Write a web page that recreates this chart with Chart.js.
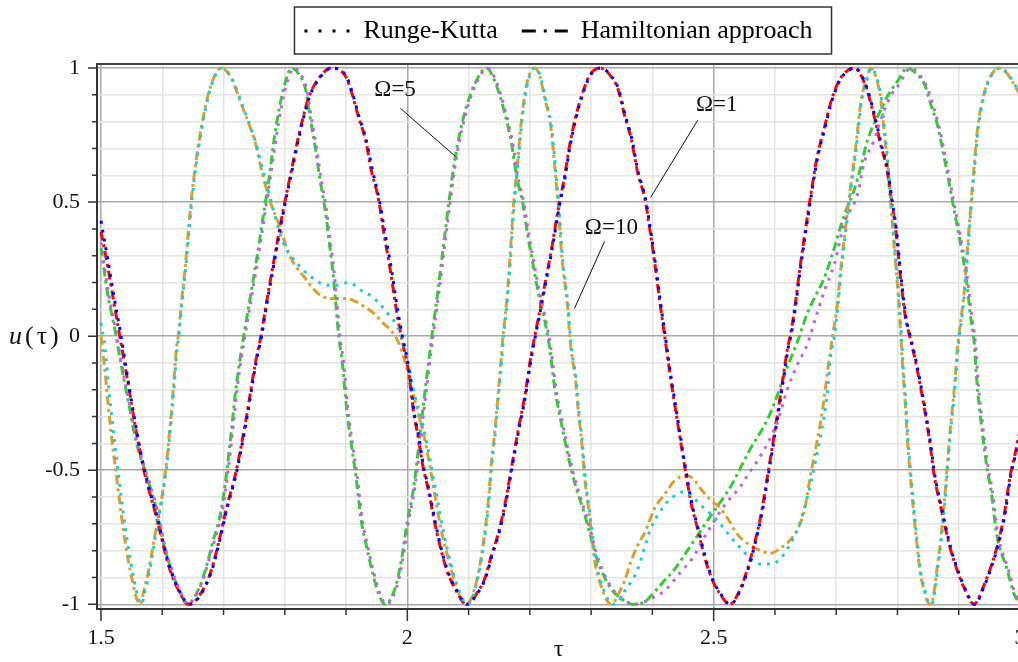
<!DOCTYPE html>
<html><head><meta charset="utf-8">
<script src="https://cdn.jsdelivr.net/npm/chart.js@4/dist/chart.umd.min.js"></script>
<style>
html,body{margin:0;padding:0;background:#fff;overflow:hidden;width:1018px;height:662px;}
#wrap{position:relative;width:1020px;height:662px;}
canvas{display:block;}
#ylab{position:absolute;left:9px;top:323px;font-family:"Liberation Serif",serif;font-size:26px;line-height:26px;color:#111;letter-spacing:3px;white-space:nowrap;}
</style></head><body>
<div id="wrap"><canvas id="c" width="1020" height="662"></canvas><div id="ylab"><i>u</i>(τ)</div></div>
<script>
// ---- tick labels ----
const xTickLabels = [1.5, 2, 2.5, 3];
const yTickLabels = [-1, -0.5, 0, 0.5, 1];
const legendLabels = ['Runge-Kutta', 'Hamiltonian approach'];

// ---- series (tau, u) ----
const ham1 = [[1.500,0.39],[1.511,0.26],[1.523,0.10],[1.533,-0.03],[1.546,-0.20],[1.557,-0.35],[1.570,-0.50],[1.590,-0.67],[1.611,-0.86],[1.627,-0.95],[1.643,-1.00],[1.660,-0.97],[1.679,-0.88],[1.692,-0.77],[1.705,-0.64],[1.720,-0.51],[1.736,-0.32],[1.752,-0.10],[1.761,0.00],[1.769,0.11],[1.779,0.24],[1.790,0.38],[1.800,0.50],[1.811,0.62],[1.822,0.74],[1.839,0.89],[1.855,0.96],[1.876,1.00],[1.899,0.97],[1.909,0.91],[1.920,0.82],[1.932,0.73],[1.941,0.62],[1.953,0.51],[1.962,0.38],[1.972,0.25],[1.982,0.10],[1.990,0.00],[2.002,-0.13],[2.010,-0.28],[2.018,-0.38],[2.025,-0.48],[2.034,-0.57],[2.047,-0.72],[2.064,-0.87],[2.080,-0.95],[2.096,-1.00],[2.116,-0.95],[2.127,-0.90],[2.137,-0.82],[2.148,-0.74],[2.160,-0.62],[2.170,-0.49],[2.181,-0.35],[2.192,-0.22],[2.200,-0.10],[2.208,0.00],[2.215,0.08],[2.225,0.20],[2.235,0.32],[2.246,0.47],[2.257,0.60],[2.264,0.70],[2.274,0.81],[2.285,0.90],[2.297,0.97],[2.314,1.00],[2.332,0.97],[2.344,0.92],[2.355,0.82],[2.365,0.74],[2.376,0.61],[2.388,0.51],[2.397,0.38],[2.404,0.27],[2.412,0.13],[2.420,0.00],[2.430,-0.16],[2.441,-0.32],[2.453,-0.49],[2.463,-0.62],[2.474,-0.72],[2.486,-0.83],[2.498,-0.91],[2.510,-0.96],[2.526,-1.00],[2.540,-0.96],[2.555,-0.87],[2.567,-0.77],[2.577,-0.67],[2.588,-0.52],[2.598,-0.38],[2.609,-0.22],[2.621,-0.04],[2.625,0.00],[2.632,0.10],[2.640,0.24],[2.648,0.37],[2.658,0.52],[2.669,0.67],[2.681,0.78],[2.691,0.87],[2.702,0.94],[2.713,0.98],[2.730,1.00],[2.741,0.97],[2.750,0.92],[2.762,0.82],[2.772,0.72],[2.783,0.62],[2.790,0.51],[2.797,0.40],[2.805,0.22],[2.813,0.07],[2.820,0.00],[2.830,-0.10],[2.844,-0.27],[2.853,-0.40],[2.860,-0.52],[2.870,-0.63],[2.886,-0.79],[2.897,-0.87],[2.909,-0.94],[2.925,-1.00],[2.941,-0.93],[2.951,-0.87],[2.962,-0.79],[2.974,-0.67],[2.984,-0.52],[2.992,-0.44],[3.000,-0.35]];

const rk1 = [[1.500,0.43],[1.510,0.30],[1.521,0.15],[1.532,0.01],[1.546,-0.19],[1.558,-0.35],[1.571,-0.50],[1.591,-0.67],[1.612,-0.86],[1.628,-0.95],[1.644,-1.00],[1.661,-0.97],[1.680,-0.88],[1.693,-0.77],[1.706,-0.64],[1.721,-0.51],[1.737,-0.32],[1.753,-0.10],[1.762,0.00],[1.770,0.11],[1.780,0.24],[1.791,0.38],[1.801,0.50],[1.812,0.62],[1.823,0.74],[1.840,0.89],[1.856,0.96],[1.877,1.00],[1.900,0.97],[1.910,0.91],[1.921,0.82],[1.933,0.73],[1.943,0.62],[1.954,0.51],[1.964,0.38],[1.974,0.25],[1.984,0.10],[1.992,0.00],[2.003,-0.13],[2.011,-0.28],[2.019,-0.38],[2.026,-0.48],[2.035,-0.57],[2.048,-0.72],[2.065,-0.87],[2.081,-0.95],[2.097,-1.00],[2.117,-0.95],[2.128,-0.90],[2.138,-0.82],[2.149,-0.74],[2.161,-0.62],[2.171,-0.49],[2.182,-0.35],[2.193,-0.22],[2.201,-0.10],[2.209,0.00],[2.216,0.08],[2.226,0.20],[2.236,0.32],[2.247,0.47],[2.258,0.60],[2.265,0.70],[2.275,0.81],[2.286,0.90],[2.298,0.97],[2.315,1.00],[2.333,0.97],[2.345,0.92],[2.356,0.82],[2.366,0.74],[2.377,0.61],[2.389,0.51],[2.398,0.38],[2.405,0.27],[2.413,0.13],[2.421,0.00],[2.431,-0.16],[2.442,-0.32],[2.454,-0.49],[2.464,-0.62],[2.475,-0.72],[2.487,-0.83],[2.499,-0.91],[2.511,-0.96],[2.527,-1.00],[2.541,-0.96],[2.556,-0.87],[2.568,-0.77],[2.578,-0.67],[2.589,-0.52],[2.599,-0.38],[2.610,-0.22],[2.622,-0.04],[2.626,0.00],[2.633,0.10],[2.641,0.24],[2.649,0.37],[2.659,0.52],[2.670,0.67],[2.682,0.78],[2.692,0.87],[2.703,0.94],[2.714,0.98],[2.731,1.00],[2.742,0.97],[2.751,0.92],[2.763,0.82],[2.773,0.72],[2.784,0.62],[2.791,0.51],[2.798,0.40],[2.806,0.22],[2.814,0.07],[2.821,0.00],[2.831,-0.10],[2.845,-0.27],[2.854,-0.40],[2.861,-0.52],[2.871,-0.63],[2.887,-0.79],[2.898,-0.87],[2.910,-0.94],[2.926,-1.00],[2.942,-0.93],[2.952,-0.87],[2.963,-0.79],[2.975,-0.67],[2.985,-0.52],[2.993,-0.44],[3.000,-0.37]];

const ham5 = [[1.500,0.33],[1.510,0.17],[1.523,0.02],[1.534,-0.12],[1.546,-0.26],[1.557,-0.39],[1.573,-0.51],[1.590,-0.64],[1.603,-0.78],[1.616,-0.88],[1.630,-0.96],[1.640,-1.00],[1.660,-0.94],[1.672,-0.86],[1.681,-0.78],[1.697,-0.64],[1.705,-0.51],[1.713,-0.35],[1.720,-0.20],[1.728,-0.07],[1.733,0.00],[1.744,0.15],[1.755,0.30],[1.765,0.45],[1.775,0.60],[1.783,0.74],[1.791,0.85],[1.800,0.94],[1.811,1.00],[1.822,0.98],[1.834,0.92],[1.841,0.82],[1.850,0.70],[1.857,0.59],[1.866,0.47],[1.872,0.36],[1.878,0.25],[1.883,0.13],[1.888,0.00],[1.894,-0.10],[1.900,-0.25],[1.909,-0.41],[1.916,-0.52],[1.925,-0.69],[1.934,-0.79],[1.943,-0.88],[1.953,-0.96],[1.964,-1.00],[1.980,-0.94],[1.990,-0.84],[2.000,-0.69],[2.010,-0.57],[2.025,-0.28],[2.040,0.00],[2.050,0.17],[2.057,0.30],[2.068,0.50],[2.077,0.65],[2.087,0.77],[2.097,0.86],[2.110,0.94],[2.129,1.00],[2.143,0.95],[2.158,0.84],[2.170,0.72],[2.178,0.60],[2.188,0.50],[2.197,0.37],[2.205,0.27],[2.214,0.16],[2.225,0.05],[2.232,-0.04],[2.241,-0.20],[2.251,-0.32],[2.258,-0.40],[2.270,-0.52],[2.290,-0.67],[2.311,-0.84],[2.332,-0.94],[2.350,-0.98],[2.368,-1.00],[2.388,-0.99],[2.405,-0.95],[2.420,-0.91],[2.436,-0.87],[2.463,-0.78],[2.495,-0.67],[2.528,-0.56],[2.544,-0.49],[2.560,-0.42],[2.588,-0.31],[2.604,-0.22],[2.616,-0.14],[2.630,-0.06],[2.640,0.00],[2.652,0.08],[2.664,0.14],[2.681,0.22],[2.697,0.33],[2.713,0.45],[2.730,0.55],[2.740,0.63],[2.751,0.73],[2.772,0.84],[2.785,0.90],[2.800,0.95],[2.816,1.00],[2.830,0.98],[2.844,0.94],[2.855,0.86],[2.865,0.79],[2.876,0.67],[2.886,0.55],[2.895,0.44],[2.905,0.32],[2.913,0.20],[2.919,0.08],[2.925,-0.02],[2.930,-0.18],[2.937,-0.33],[2.946,-0.49],[2.953,-0.58],[2.962,-0.74],[2.979,-0.87],[2.990,-0.96],[3.000,-1.00]];

const rk5 = [[1.500,0.35],[1.511,0.18],[1.524,0.02],[1.535,-0.12],[1.547,-0.26],[1.558,-0.39],[1.574,-0.51],[1.591,-0.64],[1.604,-0.78],[1.617,-0.88],[1.631,-0.96],[1.641,-1.00],[1.661,-0.94],[1.673,-0.86],[1.683,-0.78],[1.699,-0.64],[1.707,-0.51],[1.715,-0.35],[1.722,-0.20],[1.730,-0.07],[1.735,0.00],[1.746,0.15],[1.757,0.30],[1.767,0.45],[1.777,0.60],[1.786,0.74],[1.794,0.85],[1.803,0.94],[1.815,1.00],[1.825,0.98],[1.836,0.92],[1.843,0.82],[1.852,0.70],[1.859,0.59],[1.868,0.47],[1.874,0.36],[1.880,0.25],[1.885,0.13],[1.890,0.00],[1.896,-0.10],[1.902,-0.25],[1.911,-0.41],[1.918,-0.52],[1.927,-0.69],[1.936,-0.79],[1.945,-0.88],[1.955,-0.96],[1.966,-1.00],[1.982,-0.94],[1.992,-0.84],[2.002,-0.69],[2.012,-0.57],[2.027,-0.28],[2.042,0.00],[2.052,0.17],[2.059,0.30],[2.070,0.50],[2.079,0.65],[2.089,0.77],[2.099,0.86],[2.112,0.94],[2.131,1.00],[2.145,0.95],[2.160,0.84],[2.172,0.72],[2.180,0.60],[2.190,0.50],[2.199,0.37],[2.207,0.27],[2.216,0.16],[2.227,0.05],[2.234,-0.04],[2.243,-0.20],[2.253,-0.32],[2.260,-0.40],[2.272,-0.52],[2.292,-0.67],[2.313,-0.84],[2.334,-0.94],[2.352,-0.98],[2.370,-1.00],[2.388,-0.99],[2.405,-0.97],[2.420,-0.95],[2.446,-0.88],[2.465,-0.83],[2.490,-0.73],[2.518,-0.63],[2.544,-0.56],[2.555,-0.52],[2.570,-0.47],[2.588,-0.40],[2.604,-0.32],[2.620,-0.20],[2.636,-0.11],[2.653,-0.03],[2.668,0.08],[2.681,0.17],[2.697,0.27],[2.713,0.42],[2.735,0.53],[2.746,0.65],[2.760,0.72],[2.778,0.84],[2.790,0.90],[2.803,0.94],[2.821,1.00],[2.834,0.98],[2.848,0.93],[2.858,0.86],[2.868,0.78],[2.878,0.67],[2.888,0.55],[2.897,0.44],[2.907,0.32],[2.915,0.20],[2.921,0.08],[2.927,-0.02],[2.932,-0.18],[2.939,-0.33],[2.948,-0.49],[2.955,-0.58],[2.964,-0.74],[2.981,-0.87],[2.992,-0.96],[3.000,-0.99]];

const ham10 = [[1.500,0.00],[1.506,-0.12],[1.512,-0.26],[1.518,-0.39],[1.524,-0.50],[1.530,-0.61],[1.537,-0.73],[1.544,-0.83],[1.551,-0.91],[1.557,-0.97],[1.564,-1.00],[1.570,-0.95],[1.578,-0.87],[1.589,-0.73],[1.600,-0.59],[1.607,-0.47],[1.613,-0.33],[1.618,-0.20],[1.623,-0.05],[1.626,0.00],[1.632,0.14],[1.638,0.27],[1.643,0.40],[1.648,0.52],[1.655,0.65],[1.661,0.74],[1.669,0.84],[1.680,0.94],[1.697,1.00],[1.713,0.96],[1.730,0.86],[1.740,0.80],[1.752,0.72],[1.762,0.62],[1.770,0.55],[1.778,0.49],[1.790,0.42],[1.800,0.35],[1.808,0.30],[1.818,0.26],[1.832,0.22],[1.845,0.18],[1.860,0.15],[1.875,0.14],[1.900,0.14],[1.915,0.13],[1.930,0.11],[1.948,0.08],[1.960,0.05],[1.974,0.02],[1.985,-0.02],[1.997,-0.10],[2.008,-0.20],[2.018,-0.29],[2.028,-0.38],[2.038,-0.50],[2.047,-0.62],[2.056,-0.73],[2.067,-0.83],[2.078,-0.92],[2.088,-0.98],[2.097,-1.00],[2.110,-0.94],[2.121,-0.82],[2.127,-0.72],[2.132,-0.62],[2.137,-0.48],[2.143,-0.35],[2.148,-0.22],[2.153,-0.09],[2.156,0.00],[2.160,0.08],[2.166,0.24],[2.173,0.48],[2.180,0.65],[2.186,0.80],[2.194,0.93],[2.202,0.99],[2.208,1.00],[2.216,0.97],[2.225,0.88],[2.233,0.80],[2.238,0.70],[2.243,0.57],[2.246,0.50],[2.249,0.40],[2.252,0.30],[2.257,0.20],[2.262,0.10],[2.265,0.00],[2.269,-0.08],[2.274,-0.15],[2.279,-0.28],[2.284,-0.38],[2.290,-0.54],[2.295,-0.63],[2.300,-0.72],[2.306,-0.84],[2.316,-0.93],[2.327,-0.99],[2.333,-1.00],[2.345,-0.96],[2.355,-0.91],[2.365,-0.84],[2.376,-0.78],[2.388,-0.73],[2.404,-0.64],[2.420,-0.59],[2.436,-0.54],[2.453,-0.52],[2.466,-0.53],[2.479,-0.57],[2.495,-0.61],[2.510,-0.64],[2.523,-0.68],[2.539,-0.74],[2.560,-0.78],[2.577,-0.80],[2.593,-0.81],[2.609,-0.79],[2.621,-0.77],[2.637,-0.72],[2.648,-0.65],[2.658,-0.52],[2.669,-0.39],[2.678,-0.27],[2.686,-0.13],[2.694,0.00],[2.702,0.12],[2.707,0.24],[2.713,0.36],[2.723,0.55],[2.730,0.67],[2.735,0.77],[2.740,0.87],[2.751,0.97],[2.756,1.00],[2.767,0.95],[2.773,0.88],[2.778,0.77],[2.783,0.66],[2.788,0.52],[2.792,0.41],[2.795,0.32],[2.800,0.19],[2.805,0.02],[2.808,-0.10],[2.813,-0.26],[2.816,-0.38],[2.821,-0.52],[2.827,-0.67],[2.832,-0.78],[2.837,-0.88],[2.844,-0.95],[2.849,-0.99],[2.855,-1.00],[2.860,-0.95],[2.865,-0.86],[2.870,-0.77],[2.876,-0.63],[2.881,-0.49],[2.886,-0.35],[2.893,-0.19],[2.898,-0.04],[2.903,0.05],[2.909,0.17],[2.914,0.32],[2.919,0.47],[2.925,0.63],[2.930,0.76],[2.936,0.85],[2.946,0.94],[2.958,0.99],[2.966,1.00],[2.979,0.98],[2.990,0.94],[3.000,0.90]];

const rk10 = [[1.500,0.05],[1.507,-0.05],[1.513,-0.20],[1.519,-0.33],[1.526,-0.47],[1.533,-0.60],[1.540,-0.72],[1.547,-0.82],[1.554,-0.91],[1.560,-0.97],[1.566,-1.00],[1.572,-0.95],[1.580,-0.87],[1.590,-0.73],[1.601,-0.59],[1.608,-0.47],[1.614,-0.33],[1.619,-0.20],[1.624,-0.05],[1.627,0.00],[1.633,0.14],[1.639,0.27],[1.644,0.40],[1.649,0.52],[1.656,0.65],[1.662,0.74],[1.670,0.84],[1.681,0.94],[1.698,1.00],[1.714,0.96],[1.731,0.86],[1.741,0.80],[1.753,0.72],[1.763,0.63],[1.770,0.57],[1.778,0.50],[1.790,0.40],[1.801,0.33],[1.817,0.28],[1.833,0.24],[1.850,0.21],[1.868,0.19],[1.885,0.19],[1.904,0.20],[1.925,0.17],[1.941,0.15],[1.955,0.12],[1.966,0.09],[1.980,0.05],[1.990,0.00],[2.000,-0.09],[2.012,-0.22],[2.022,-0.30],[2.032,-0.40],[2.041,-0.51],[2.050,-0.62],[2.059,-0.73],[2.069,-0.83],[2.080,-0.92],[2.090,-0.98],[2.099,-1.00],[2.111,-0.94],[2.122,-0.82],[2.128,-0.72],[2.133,-0.62],[2.138,-0.48],[2.144,-0.35],[2.149,-0.22],[2.154,-0.09],[2.157,0.00],[2.161,0.08],[2.167,0.24],[2.174,0.48],[2.181,0.65],[2.187,0.80],[2.195,0.93],[2.203,0.99],[2.209,1.00],[2.217,0.97],[2.226,0.88],[2.234,0.80],[2.239,0.70],[2.244,0.57],[2.247,0.50],[2.250,0.40],[2.253,0.30],[2.258,0.20],[2.263,0.10],[2.266,0.00],[2.270,-0.08],[2.275,-0.15],[2.280,-0.28],[2.285,-0.38],[2.291,-0.54],[2.296,-0.63],[2.301,-0.72],[2.308,-0.84],[2.318,-0.93],[2.330,-0.99],[2.339,-1.00],[2.355,-0.95],[2.376,-0.87],[2.397,-0.72],[2.420,-0.63],[2.440,-0.59],[2.453,-0.58],[2.466,-0.60],[2.479,-0.63],[2.507,-0.69],[2.528,-0.75],[2.544,-0.79],[2.560,-0.83],[2.577,-0.85],[2.593,-0.85],[2.609,-0.83],[2.626,-0.77],[2.637,-0.72],[2.653,-0.60],[2.664,-0.49],[2.674,-0.38],[2.686,-0.20],[2.690,-0.09],[2.697,0.00],[2.703,0.12],[2.708,0.24],[2.714,0.36],[2.724,0.55],[2.731,0.67],[2.736,0.77],[2.741,0.87],[2.752,0.97],[2.757,1.00],[2.768,0.95],[2.774,0.88],[2.779,0.77],[2.784,0.66],[2.789,0.52],[2.793,0.41],[2.796,0.32],[2.801,0.19],[2.806,0.02],[2.809,-0.10],[2.814,-0.26],[2.817,-0.38],[2.822,-0.52],[2.828,-0.67],[2.833,-0.78],[2.838,-0.88],[2.845,-0.95],[2.850,-0.99],[2.856,-1.00],[2.861,-0.95],[2.866,-0.86],[2.871,-0.77],[2.877,-0.63],[2.882,-0.49],[2.887,-0.35],[2.894,-0.19],[2.899,-0.04],[2.904,0.05],[2.910,0.17],[2.915,0.32],[2.920,0.47],[2.926,0.63],[2.931,0.76],[2.937,0.85],[2.947,0.94],[2.959,0.99],[2.967,1.00],[2.980,0.98],[2.991,0.94],[3.000,0.91]];

// ---- annotations (data coordinates) ----
const annoTexts = ['Ω=5', 'Ω=1', 'Ω=10'];
const annoTextAt = [[1.980, 0.920], [2.505, 0.864], [2.333, 0.402]];
const annoLines = [[1.9886, 0.850, 2.0784, 0.6705], [2.4739, 0.805, 2.3971, 0.5175], [2.3219, 0.3534, 2.2729, 0.1034]];

// ---- layout constants ----
const X_MIN = 1.4935, X_MAX = 3;
const Y_MIN = -1.0175, Y_MAX = 1.015;
const xGrid = []; for (let i = 15; i <= 30; i++) xGrid.push(i / 10);
const yGrid = []; for (let i = -10; i <= 10; i++) yGrid.push(i / 10);
const isMajor = (v, arr) => arr.some(l => Math.abs(l - v) < 1e-6);
const fmt = v => String(Math.round(v * 10) / 10);

const FONT = 'Liberation Serif';
Chart.defaults.font.family = FONT;

const HAM_DASH = [9, 4, 3, 4];
const RK_DASH = [3, 6];
const toPts = a => a.map(p => ({x: p[0], y: p[1]}));
const base = {borderWidth: 3, pointRadius: 0, fill: false, cubicInterpolationMode: 'monotone', borderCapStyle: 'butt'};
const datasets = [
  {label: 'Ω=1 Runge-Kutta', data: toPts(rk1), borderColor: '#0000ff', borderDash: RK_DASH},
  {label: 'Ω=10 Runge-Kutta', data: toPts(rk10), borderColor: '#22cccc', borderDash: RK_DASH},
  {label: 'Ω=5 Runge-Kutta', data: toPts(rk5), borderColor: '#bb66dd', borderDash: RK_DASH},
  {label: 'Ω=1 Hamiltonian approach', data: toPts(ham1), borderColor: '#ff0000', borderDash: HAM_DASH},
  {label: 'Ω=10 Hamiltonian approach', data: toPts(ham10), borderColor: '#daa030', borderDash: HAM_DASH},
  {label: 'Ω=5 Hamiltonian approach', data: toPts(ham5), borderColor: '#33cc33', borderDash: HAM_DASH}
].map(d => Object.assign({}, base, d));

const LEG_PAD = 24, LEG_FONT = 26;

const framePlugin = {
  id: 'framePlugin',
  afterDraw(chart) {
    const {ctx, chartArea: a, scales: {x, y}} = chart;
    ctx.save();
    ctx.strokeStyle = '#333'; ctx.lineWidth = 1.5;
    ctx.beginPath();
    xGrid.forEach(v => {
      const px = x.getPixelForValue(v);
      const L = isMajor(v, xTickLabels) ? 12 : 6;
      ctx.moveTo(px, a.bottom); ctx.lineTo(px, a.bottom + L);
    });
    yGrid.forEach(v => {
      const py = y.getPixelForValue(v);
      const L = isMajor(v, yTickLabels) ? 9 : 5;
      ctx.moveTo(a.left, py); ctx.lineTo(a.left - L, py);
    });
    ctx.stroke();
    ctx.strokeStyle = '#444'; ctx.lineWidth = 2;
    ctx.beginPath(); ctx.moveTo(a.left, a.top); ctx.lineTo(a.right, a.top); ctx.stroke();
    const lg = chart.legend;
    if (lg && lg.legendHitBoxes && lg.legendHitBoxes.length) {
      const hb = lg.legendHitBoxes;
      const cy = hb[0].top + hb[0].height / 2;
      const l = hb[0].left - 10;
      const r = hb[hb.length - 1].left + hb[hb.length - 1].width + 19;
      ctx.strokeStyle = '#333'; ctx.lineWidth = 1.5;
      ctx.strokeRect(l, cy - 24, r - l, 47);
    }
    ctx.restore();
  }
};

const annoPlugin = {
  id: 'annoPlugin',
  afterDatasetsDraw(chart) {
    const {ctx, scales: {x, y}} = chart;
    ctx.save();
    ctx.strokeStyle = '#111'; ctx.lineWidth = 1;
    annoLines.forEach(l => {
      ctx.beginPath();
      ctx.moveTo(x.getPixelForValue(l[0]), y.getPixelForValue(l[1]));
      ctx.lineTo(x.getPixelForValue(l[2]), y.getPixelForValue(l[3]));
      ctx.stroke();
    });
    ctx.fillStyle = '#111';
    ctx.font = '23px "' + FONT + '"';
    ctx.textAlign = 'center'; ctx.textBaseline = 'middle';
    annoTexts.forEach((t, i) => {
      ctx.fillText(t, x.getPixelForValue(annoTextAt[i][0]), y.getPixelForValue(annoTextAt[i][1]));
    });
    ctx.restore();
  }
};

new Chart(document.getElementById('c'), {
  type: 'line',
  data: {datasets},
  plugins: [framePlugin, annoPlugin],
  options: {
    responsive: false, animation: false, devicePixelRatio: 1,
    layout: {padding: {top: -6, left: 0, right: 0, bottom: 0}},
    plugins: {
      tooltip: {enabled: false},
      legend: {
        display: true, position: 'top', fullSize: false,
        labels: {
          usePointStyle: true, pointStyleWidth: 46, boxWidth: 46, padding: LEG_PAD,
          font: {family: FONT, size: LEG_FONT}, color: '#111',
          generateLabels: () => [
            {text: legendLabels[0], pointStyle: 'line', strokeStyle: '#000', fillStyle: '#000', lineWidth: 3, lineDash: [3, 11], lineCap: 'butt', hidden: false},
            {text: legendLabels[1], pointStyle: 'line', strokeStyle: '#000', fillStyle: '#000', lineWidth: 3, lineDash: [14, 8, 3, 8], lineCap: 'butt', hidden: false}
          ]
        }
      },
      title: {display: true, text: '', weight: 500, fullSize: false, font: {size: 1, lineHeight: 1}, padding: {top: 9, bottom: 0}}
    },
    scales: {
      x: {
        type: 'linear', min: X_MIN, max: X_MAX,
        afterBuildTicks: s => { s.ticks = xGrid.map(v => ({value: v})); },
        afterFit: s => { s.height = 53; s.paddingLeft = 0; s.paddingRight = 0; },
        ticks: {autoSkip: false, maxRotation: 0, minRotation: 0, padding: 6, font: {family: FONT, size: 22}, color: '#111',
          callback: v => isMajor(v, xTickLabels) ? fmt(v) : ''},
        grid: {color: c => (c.tick && isMajor(c.tick.value, xTickLabels)) ? '#a8a8a8' : '#e4e4e4', lineWidth: 1.5,
          drawTicks: true, tickLength: 10, tickColor: 'rgba(0,0,0,0)'},
        border: {display: true, color: '#333', width: 2},
        title: {display: true, text: 'τ', color: '#111', font: {family: FONT, size: 24, lineHeight: 1}, padding: {top: 0, bottom: 0}}
      },
      y: {
        type: 'linear', min: Y_MIN, max: Y_MAX,
        afterBuildTicks: s => { s.ticks = yGrid.map(v => ({value: v})); },
        afterFit: s => { s.width = 97; s.paddingTop = 0; s.paddingBottom = 0; },
        ticks: {autoSkip: false, padding: 8, font: {family: FONT, size: 22}, color: '#111',
          callback: v => isMajor(v, yTickLabels) ? fmt(v) : ''},
        grid: {color: c => (c.tick && isMajor(c.tick.value, yTickLabels)) ? '#a8a8a8' : '#e4e4e4', lineWidth: 1.5,
          drawTicks: true, tickLength: 9, tickColor: 'rgba(0,0,0,0)'},
        border: {display: true, color: '#333', width: 2}
      }
    }
  }
});
</script>
</body></html>
